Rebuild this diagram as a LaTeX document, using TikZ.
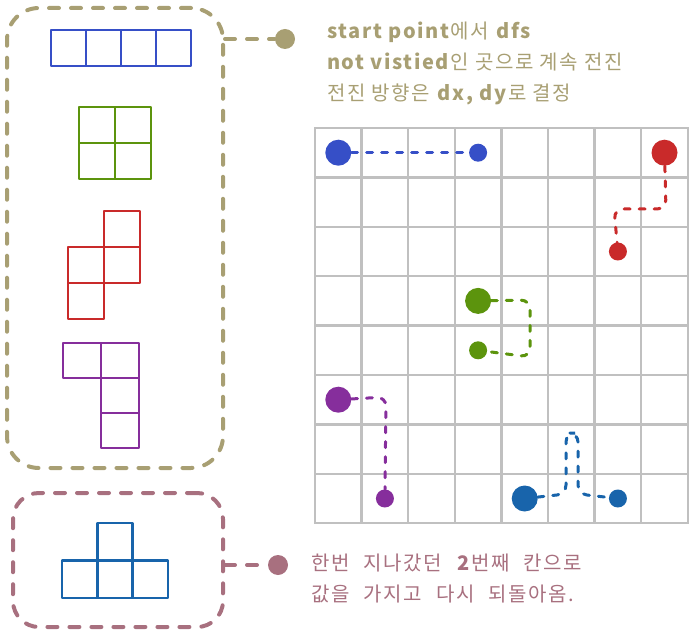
\documentclass[tikz,border=0pt]{standalone}
\usepackage{fontspec}
\setmainfont{Noto Sans CJK KR}
\newfontfamily\notefont[LetterSpace=8]{Noto Sans CJK KR}
\newcommand{\widewords}{\spaceskip=14pt plus 2pt\relax}
\usetikzlibrary{positioning}
\definecolor{khaki}{HTML}{A89F73}
\definecolor{mauve}{HTML}{A8707F}
\definecolor{gridgray}{HTML}{C0C0C0}
\definecolor{indigoI}{HTML}{364FC7}
\definecolor{limeO}{HTML}{5C940D}
\definecolor{redS}{HTML}{C92A2A}
\definecolor{grapeJ}{HTML}{862E9C}
\definecolor{blueT}{HTML}{1864AB}
\tikzset{%
  gridline/.style = {draw = gridgray, line width = 2.5pt},
  piece/.style    = {draw = #1, line width = 2.4pt, line join = round},
  bigdot/.style   = {circle, fill = #1, minimum size = 26pt, inner sep = 0pt},
  smalldot/.style = {circle, fill = #1, minimum size = 18pt, inner sep = 0pt},
  trail/.style    = {draw = #1, line width = 3pt, line cap = round,
    dash pattern = on 6pt off 9pt, rounded corners = 9pt},
  groupbox/.style = {draw = #1, line width = 4pt, line cap = round,
    dash pattern = on 10pt off 12pt, rounded corners = 32pt},
  link/.style     = {draw = #1, line width = 4pt, line cap = round,
    dash pattern = on 10pt off 12pt},
  note/.style     = {text = #1, align = left, anchor = north west, inner sep = 0pt,
    font = \notefont\fontsize{20}{31}\selectfont}
}
\newcommand{\cx}[1]{338.3+46.6*#1}
\newcommand{\cy}[1]{152.7+49.4*#1}

\begin{document}
\begin{tikzpicture}[x = 1pt, y = -1pt]
\useasboundingbox (0,0) rectangle (698,636);
%board
\foreach \c in {0,...,7}
  \foreach \r in {0,...,7}
    \draw[gridline] ({315+46.6*\c},{128+49.4*\r}) rectangle ++(46.6,49.4);
%start and end dots
\node[bigdot = indigoI] (istart) at ({\cx{0}},{\cy{0}}) {};
\node[smalldot = indigoI] (iend) at ({\cx{3}},{\cy{0}}) {};
\node[bigdot = redS] (sstart) at ({\cx{7}},{\cy{0}}) {};
\node[smalldot = redS] (send) at ({\cx{6}},{\cy{2}}) {};
\node[bigdot = limeO] (ostart) at ({\cx{3}},{\cy{3}}) {};
\node[smalldot = limeO] (oend) at ({\cx{3}},{\cy{4}}) {};
\node[bigdot = grapeJ] (jstart) at ({\cx{0}},{\cy{5}}) {};
\node[smalldot = grapeJ] (jend) at ({\cx{1}},{\cy{7}}) {};
\node[bigdot = blueT] (tstart) at ({\cx{4}},{\cy{7}}) {};
\node[smalldot = blueT] (tend) at ({\cx{6}},{\cy{7}}) {};
%dfs trails
\draw[trail = indigoI] (istart) -- (iend);
\draw[trail = redS] (sstart) -- (666,209) -- (614,209) -- (send);
\draw[trail = limeO] (ostart) -- (530,300) -- (530,357) -- (oend);
\draw[trail = grapeJ] (jstart) -- (386,397) -- (jend);
\draw[trail = blueT] (tstart) -- (566,494) -- (566,433) -- (578,433) -- (578,494) -- (tend);
%tetromino group
\node[groupbox = khaki, minimum width = 216pt, minimum height = 460pt] (dfsbox) at (115,238) {};
\foreach \i in {0,...,3}
  \draw[piece = indigoI] ({51+35*\i},30) rectangle ++(35,36);
\foreach \i/\j in {0/0, 1/0, 0/1, 1/1}
  \draw[piece = limeO] ({79+36*\i},{107+36*\j}) rectangle ++(36,36);
\foreach \i/\j in {1/0, 0/1, 1/1, 0/2}
  \draw[piece = redS] ({68+36*\i},{211+36*\j}) rectangle ++(36,36);
\foreach \i/\j in {0/0, 1/0, 1/1, 1/2}
  \draw[piece = grapeJ] ({63+38*\i},{343+35*\j}) rectangle ++(38,35);
%t piece group
\node[groupbox = mauve, minimum width = 210pt, minimum height = 134pt, rounded corners = 26pt] (backbox) at (118,560) {};
\foreach \i/\j in {1/0, 0/1, 1/1, 2/1}
  \draw[piece = blueT] ({62+35.3*\i},{523+37.5*\j}) rectangle ++(35.3,37.5);
%notes
\node[smalldot = khaki, minimum size = 20pt] (dfsdot) at (285,39) {};
\draw[link = khaki] (dfsbox.east |- dfsdot) -- (dfsdot);
\node[note = khaki] (dfsnote) at (327,22) {\textbf{start point}에서 \textbf{dfs}\\\textbf{not vistied}인 곳으로 계속 전진\\전진 방향은 \textbf{dx, dy}로 결정};
\node[smalldot = mauve, minimum size = 20pt] (backdot) at (278,565) {};
\draw[link = mauve] (backbox.east |- backdot) -- (backdot);
\node[note = mauve, font = \notefont\fontsize{20}{31}\selectfont\widewords] (backnote) at (311,554) {한번 지나갔던 \textbf{2}번째 칸으로\\값을 가지고 다시 되돌아옴.};
\end{tikzpicture}
\end{document}
